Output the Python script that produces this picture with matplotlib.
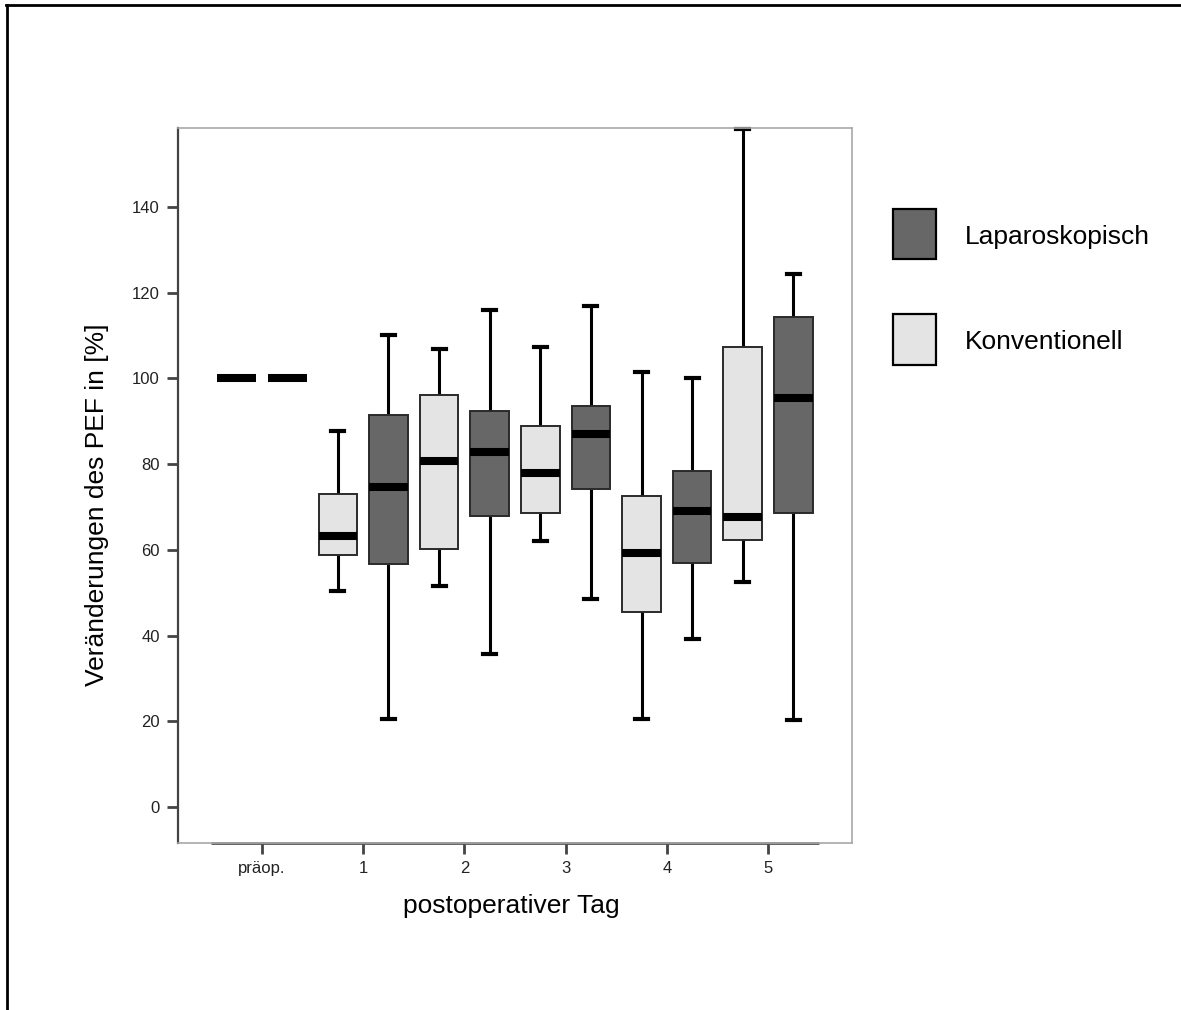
import matplotlib
matplotlib.use("Agg")
import matplotlib.pyplot as plt
from matplotlib.patches import Rectangle
from matplotlib.lines import Line2D

plt.rcParams['font.family'] = ['Liberation Sans', 'DejaVu Sans']

# ---- data ----
days = ["präop.", "1", "2", "3", "4", "5"]
groups = ["Laparoskopisch", "Konventionell"]

# Konventionell (light boxes, left of each tick)
konv_whislo = [100, 50.5, 51.6, 62.0, 20.6, 52.5]
konv_q1     = [100, 58.9, 60.1, 68.5, 45.6, 62.2]
konv_med    = [100, 63.2, 80.7, 77.9, 59.2, 67.6]
konv_q3     = [100, 73.0, 96.1, 88.9, 72.5, 107.4]
konv_whishi = [100, 87.8, 106.9, 107.3, 101.4, 158.2]

# Laparoskopisch (dark boxes, right of each tick)
lap_whislo = [100, 20.6, 35.7, 48.6, 39.1, 20.2]
lap_q1     = [100, 56.6, 67.9, 74.1, 56.9, 68.5]
lap_med    = [100, 74.7, 82.9, 87.0, 69.1, 95.4]
lap_q3     = [100, 91.4, 92.4, 93.6, 78.4, 114.3]
lap_whishi = [100, 110.1, 116.0, 116.9, 100.0, 124.4]

y_ticks = [0, 20, 40, 60, 80, 100, 120, 140]

dark_col = "#676767"
light_col = "#e4e4e4"

def make_stats(lo, q1, med, q3, hi):
    return [dict(whislo=a, q1=b, med=c, q3=d, whishi=e, fliers=[])
            for a, b, c, d, e in zip(lo, q1, med, q3, hi)]

fig = plt.figure(figsize=(11.81, 10.10), dpi=100)
ax = fig.add_axes([178/1181, 1-843/1010, (852-178)/1181, (843-128)/1010])

base = list(range(len(days)))
off = 0.25
w = 0.38

for stats, col, sgn in [(make_stats(konv_whislo, konv_q1, konv_med, konv_q3, konv_whishi), light_col, -1),
                        (make_stats(lap_whislo, lap_q1, lap_med, lap_q3, lap_whishi), dark_col, 1)]:
    pos = [b + sgn*off for b in base]
    res = ax.bxp(stats, positions=pos, widths=w, patch_artist=True,
                 showfliers=False, capwidths=0.13,
                 boxprops=dict(facecolor=col, edgecolor="#2a2a2a", linewidth=1.4, zorder=3),
                 medianprops=dict(color="black", linewidth=5.8, solid_capstyle="butt", zorder=4),
                 whiskerprops=dict(color="black", linewidth=2.2, zorder=2),
                 capprops=dict(color="black", linewidth=3.0, zorder=2),
                 manage_ticks=False)
    # präop: only the median bar is visible
    res['boxes'][0].set_visible(False)
    res['whiskers'][0].set_visible(False)
    res['whiskers'][1].set_visible(False)
    res['caps'][0].set_visible(False)
    res['caps'][1].set_visible(False)
    for m in res['medians']:
        m.set_clip_on(False)
    for c in res['caps']:
        c.set_clip_on(False)

ax.set_xlim(-0.83, 5.83)
ax.set_ylim(-8.4, 158.4)
ax.set_xticks(base)
ax.set_xticklabels(days, fontsize=12)
ax.set_yticks(y_ticks)
ax.set_yticklabels([str(t) for t in y_ticks], fontsize=12)
ax.tick_params(axis='both', direction='out', length=8, width=2, color="#444444",
               labelcolor="#222222", pad=5)

for s in ['top', 'right', 'bottom']:
    ax.spines[s].set_color("#a8a8a8")
    ax.spines[s].set_linewidth(1.2)
ax.spines['left'].set_color("#444444")
ax.spines['left'].set_linewidth(1.6)
# darker part of the category axis over the category range
ax.plot([-0.5, 5.5], [0, 0], color="#555555", linewidth=2.0,
        transform=ax.get_xaxis_transform(), clip_on=False, solid_capstyle="butt")

ax.set_ylabel("Veränderungen des PEF in [%]", fontsize=19)
ax.yaxis.set_label_coords((97-178)/674, (843-505)/715)
ax.set_xlabel("postoperativer Tag", fontsize=19)
ax.xaxis.set_label_coords(0.495, (843-906)/715)
ax.xaxis.label.set_va('center')
ax.yaxis.label.set_va('center')

# legend
W, H = 1181, 1010
leg_items = [(groups[0], dark_col, 209, 259, 237), (groups[1], light_col, 314, 365, 342)]
for lab, col, yt, yb, yc in leg_items:
    fig.patches.append(Rectangle((893/W, 1-yb/H), (936-893)/W, (yb-yt)/H,
                                 transform=fig.transFigure, facecolor=col,
                                 edgecolor="black", linewidth=1.6))
    fig.text(965/W, 1-yc/H, lab, fontsize=19, va='center', ha='left')

# figure frame (top and left)
fig.lines.append(Line2D([6/W, 1], [1-5/H, 1-5/H], transform=fig.transFigure, color="black", linewidth=2))
fig.lines.append(Line2D([7/W, 7/W], [0, 1-5/H], transform=fig.transFigure, color="black", linewidth=2))

fig.savefig("out.png", dpi=100)
